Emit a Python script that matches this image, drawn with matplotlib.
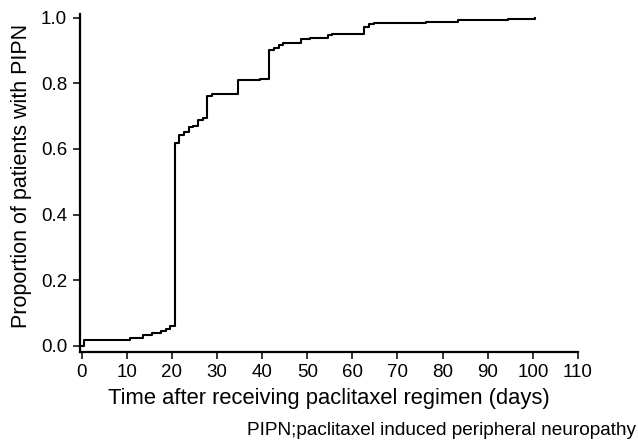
import matplotlib
matplotlib.use("Agg")
import matplotlib.pyplot as plt

plt.rcParams['font.family'] = ['Liberation Sans', 'DejaVu Sans']

# cumulative incidence of PIPN (step function)
days = [0, 0.5, 10.8, 13.7, 15.7, 17.5, 18.8, 19.7, 20.7, 21.6, 22.6, 23.8,
        24.8, 25.7, 26.8, 27.7, 28.8, 34.7, 39.6, 41.6, 42.6, 43.8, 44.6,
        48.6, 50.7, 54.5, 55.6, 62.6, 63.6, 64.8, 76.4, 83.4, 94.4, 100.4]
proportion = [0.0, 0.017, 0.024, 0.032, 0.038, 0.045, 0.052, 0.06, 0.619,
              0.642, 0.652, 0.668, 0.671, 0.688, 0.694, 0.762, 0.766, 0.809,
              0.813, 0.90, 0.907, 0.917, 0.922, 0.935, 0.939, 0.946, 0.951,
              0.973, 0.98, 0.983, 0.987, 0.993, 0.997, 1.0]

x_ticks = list(range(0, 111, 10))
y_ticks = [0.0, 0.2, 0.4, 0.6, 0.8, 1.0]

fig = plt.figure(figsize=(6.38, 4.42), dpi=100)
ax = fig.add_axes([0.125, 0.204, 0.781, 0.765])

ax.step(days, proportion, where='post', color='black', lw=1.5)

ax.set_xlim(-0.4, 110)
ax.set_ylim(-0.018, 1.012)
ax.set_xticks(x_ticks)
ax.set_yticks(y_ticks)
ax.set_yticklabels([f"{v:.1f}" for v in y_ticks])

for side in ['top', 'right']:
    ax.spines[side].set_visible(False)
for side in ['left', 'bottom']:
    ax.spines[side].set_linewidth(1.6)
ax.tick_params(length=5, width=1.1, labelsize=13.5, pad=4)

ax.set_xlabel("Time after receiving paclitaxel regimen (days)", fontsize=15.8,
              labelpad=5)
ax.set_ylabel("Proportion of patients with PIPN", fontsize=15.5)
ax.yaxis.set_label_coords(-0.096, 0.52)

fig.text(0.997, 0.006, "PIPN;paclitaxel induced peripheral neuropathy",
         ha='right', va='bottom', fontsize=13.7)

fig.savefig("out.png", dpi=100)
